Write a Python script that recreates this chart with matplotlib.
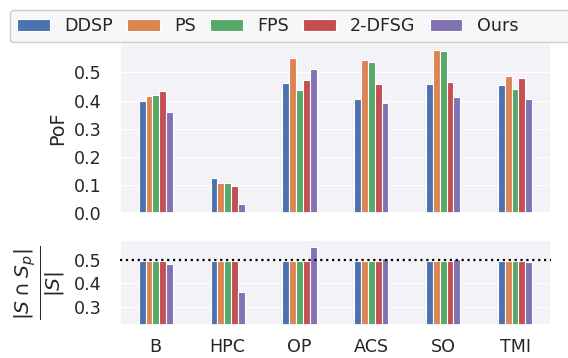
import matplotlib
matplotlib.use("Agg")
import matplotlib.pyplot as plt
from matplotlib.patches import Rectangle
import numpy as np
import seaborn as sns

categories = ["B", "HPC", "OP", "ACS", "SO", "TMI"]
methods = ["DDSP", "PS", "FPS", "2-DFSG", "Ours"]
pof = {
    "DDSP":   [0.398, 0.124, 0.461, 0.407, 0.460, 0.457],
    "PS":     [0.418, 0.107, 0.550, 0.543, 0.581, 0.486],
    "FPS":    [0.419, 0.107, 0.436, 0.536, 0.577, 0.442],
    "2-DFSG": [0.435, 0.095, 0.474, 0.460, 0.465, 0.480],
    "Ours":   [0.361, 0.031, 0.513, 0.393, 0.411, 0.405],
}
ratio = {
    "DDSP":   [0.496, 0.496, 0.496, 0.496, 0.496, 0.496],
    "PS":     [0.496, 0.496, 0.496, 0.496, 0.496, 0.496],
    "FPS":    [0.496, 0.496, 0.496, 0.496, 0.496, 0.496],
    "2-DFSG": [0.496, 0.496, 0.496, 0.496, 0.496, 0.496],
    "Ours":   [0.484, 0.362, 0.559, 0.510, 0.505, 0.492],
}
top_ticks = [0.0, 0.1, 0.2, 0.3, 0.4, 0.5]
bot_ticks = [0.3, 0.4, 0.5]

sns.set_theme(style="darkgrid", font_scale=1.15)
plt.rcParams["axes.facecolor"] = "#F2F2F7"
plt.rcParams["font.family"] = ["DejaVu Sans"]
plt.rcParams["mathtext.fontset"] = "dejavusans"
colors = sns.color_palette("deep", 5)

fig = plt.figure(figsize=(5.68, 3.58), dpi=100)
ax1 = fig.add_axes([0.211, 0.405, 0.759, 0.475])
ax2 = fig.add_axes([0.211, 0.092, 0.759, 0.238])

x = np.arange(len(categories))
w = 0.095
for i, m in enumerate(methods):
    off = (i - 2) * w
    ax1.bar(x + off, pof[m], w, color=colors[i], edgecolor="white", linewidth=0.8, label=m)
    ax2.bar(x + off, ratio[m], w, color=colors[i], edgecolor="white", linewidth=0.8)

for ax in (ax1, ax2):
    ax.set_xlim(-0.5, 5.5)
    ax.xaxis.grid(False)
    ax.tick_params(axis="y", pad=6.8)
ax1.set_ylim(0, 0.605)
ax2.set_ylim(0.22, 0.588)
ax1.set_yticks(top_ticks)
ax2.set_yticks(bot_ticks)
ax1.set_xticks(x)
ax1.set_xticklabels([])
ax2.set_xticks(x)
ax2.set_xticklabels(categories)
ax1.set_ylabel("PoF", labelpad=5.5)
ax2.set_ylabel(r"$\frac{|S\cap S_p|}{|S|}$", fontsize=21, labelpad=5)
ax2.axhline(0.5, color="black", linestyle=":", linewidth=1.6, zorder=5)

handles, labels = ax1.get_legend_handles_labels()
handles.append(Rectangle((0, 0), 1, 1, alpha=0))
labels.append(" ")
fig.legend(handles, labels, loc="upper left", bbox_to_anchor=(0.0176, 0.972), ncol=6,
           borderaxespad=0, handlelength=1.85, handletextpad=0.82, columnspacing=0.82,
           facecolor="#F7F7FA", edgecolor="#CCCCCC", framealpha=1)

fig.savefig("out.png", dpi=100)
